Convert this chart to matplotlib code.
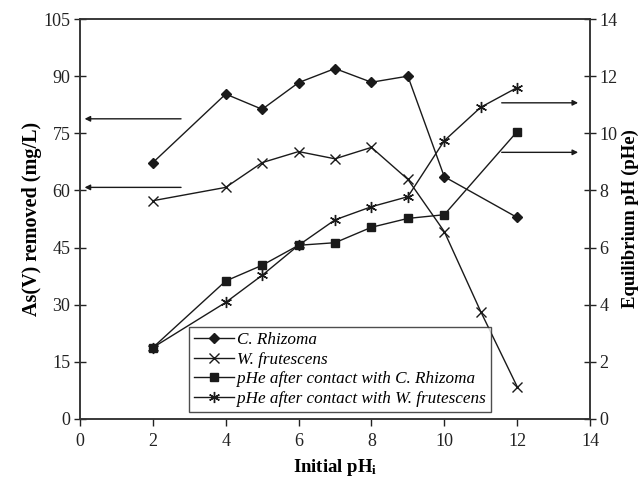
import matplotlib
matplotlib.use("Agg")
import matplotlib.pyplot as plt

plt.rcParams['font.family'] = ['Liberation Serif', 'DejaVu Serif']
plt.rcParams['mathtext.fontset'] = 'custom'
plt.rcParams['mathtext.rm'] = 'Liberation Serif'
plt.rcParams['mathtext.bf'] = 'Liberation Serif:bold'
plt.rcParams['mathtext.it'] = 'Liberation Serif:italic'

ph_initial = [2, 4, 5, 6, 7, 8, 9, 10, 12]
ph_initial_w = [2, 4, 5, 6, 7, 8, 9, 10, 11, 12]
as_c_rhizoma = [67.3, 85.3, 81.3, 88.3, 92.0, 88.4, 90.0, 63.6, 52.9]
as_w_frutescens = [57.3, 60.8, 67.3, 70.2, 68.3, 71.3, 62.9, 49.2, 28.2, 8.5]
phe_c_rhizoma = [2.5, 4.83, 5.38, 6.08, 6.17, 6.71, 7.02, 7.15, 10.06]
phe_w_frutescens = [2.5, 4.08, 5.03, 6.08, 6.97, 7.43, 7.78, 9.74, 10.91, 11.6]

labels = ["C. Rhizoma", "W. frutescens",
          "pHe after contact with C. Rhizoma",
          "pHe after contact with W. frutescens"]

fig = plt.figure(figsize=(6.42, 4.79), dpi=100)
ax = fig.add_axes([0.1246, 0.1253, 0.7944, 0.835])
ax2 = ax.twinx()

lc = '#1a1a1a'
l1, = ax.plot(ph_initial, as_c_rhizoma, color=lc, lw=1, marker='D', ms=5, mfc=lc, mec=lc)
l2, = ax.plot(ph_initial_w, as_w_frutescens, color=lc, lw=1, marker='x', ms=7, mew=1)
l3, = ax2.plot(ph_initial, phe_c_rhizoma, color=lc, lw=1, marker='s', ms=5.5, mfc=lc, mec=lc)
l4, = ax2.plot(ph_initial_w, phe_w_frutescens, color=lc, lw=1, marker=(6, 2, 0), ms=8, mew=1)

ax.set_xlim(0, 14)
ax.set_ylim(0, 105)
ax2.set_ylim(0, 14)
ax.set_xticks(range(0, 15, 2))
ax.set_yticks(range(0, 106, 15))
ax2.set_yticks(range(0, 15, 2))

for a in (ax, ax2):
    a.tick_params(labelsize=13, colors='#222222', length=6, width=1)
    for s in a.spines.values():
        s.set_linewidth(1.1)
        s.set_color('#333333')
ax.tick_params(axis='y', direction='inout', length=8, pad=3)
ax2.tick_params(axis='y', direction='inout', length=8, pad=3)
ax.tick_params(axis='x', direction='out', length=5, pad=5)

ax.set_xlabel("Initial pH$_\\mathbf{i}$", fontsize=13.5, fontweight='bold', labelpad=5)
ax.set_ylabel("As(V) removed (mg/L)", fontsize=14.5, fontweight='bold', labelpad=1)
ax2.set_ylabel("Equilibrium pH (pHe)", fontsize=13.5, fontweight='bold', labelpad=3)

# arrows pointing to axes
arr = dict(arrowstyle='-|>', color=lc, lw=1, mutation_scale=8)
ax.annotate('', xy=(0.05, 78.8), xytext=(2.85, 78.8), arrowprops=arr)
ax.annotate('', xy=(0.05, 60.8), xytext=(2.85, 60.8), arrowprops=arr)
ax.annotate('', xy=(13.75, 83.0), xytext=(11.5, 83.0), arrowprops=arr)
ax.annotate('', xy=(13.75, 70.0), xytext=(11.5, 70.0), arrowprops=arr)

leg = ax.legend([l1, l2, l3, l4], labels, loc='lower left',
                bbox_to_anchor=(0.214, 0.018, 0.592, 0.215), mode='expand',
                prop={'style': 'italic', 'size': 12.3}, frameon=True, fancybox=False,
                edgecolor='#222222', borderpad=0.3, labelspacing=0.2,
                handlelength=2.3, handletextpad=0.2, borderaxespad=0)
leg.get_frame().set_linewidth(1)

fig.savefig("out.png", dpi=100)
